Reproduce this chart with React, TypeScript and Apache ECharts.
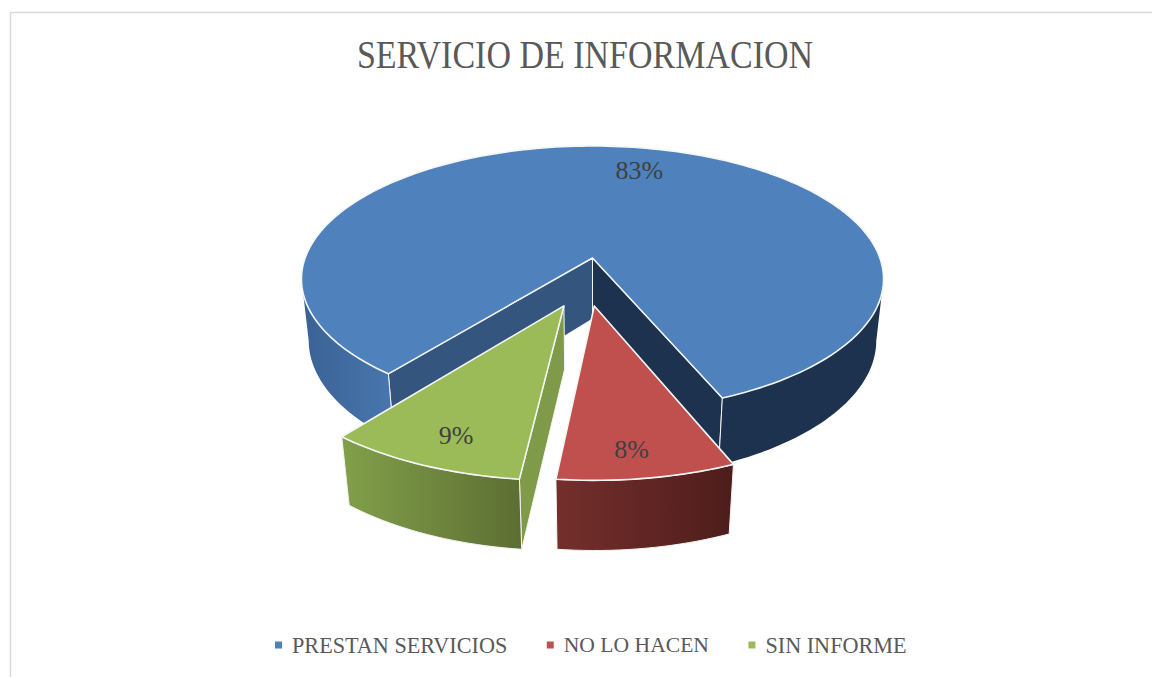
import React, { useEffect, useRef } from "react";
import * as echarts from "echarts";

const titleText = "SERVICIO DE INFORMACION";
const categories = ["PRESTAN SERVICIOS", "NO LO HACEN", "SIN INFORME"];
const percentages = [83, 8, 9];
const topColors = ["#4f81bd", "#c0504d", "#9bbb59"];

const SERIF = '"Liberation Serif", "DejaVu Serif", serif';
const START_ANGLE = 218.5;
const CX = 592.5, CY = 258, RX = 287.4, RY = 129.7, PERSP = 0.158, DEPTH_PERSP = 0.025, DEPTH = 62.5;
const LEFT_SILHOUETTE = 261, RIGHT_SILHOUETTE = 99;

// Per-slice look (explosion in pie-plane units, label anchor in the slice's own polar coordinates)
const looks = [
  { explode: [0, 0], labelAngle: 13.5, labelR: 0.78, legendSize: 22.2 },
  { explode: [0.006, 0.349], labelAngle: 173, labelR: 0.855, legendSize: 21.6 },
  { explode: [-0.094, 0.349], labelAngle: 200.9, labelR: 0.83, legendSize: 22.2 },
];

const rad = (d: number) => (d * Math.PI) / 180;
const total = percentages.reduce((a, b) => a + b, 0);

function project(u: number, v: number, h: number): number[] {
  const w = 1 - PERSP * v + DEPTH_PERSP * h;
  return [CX + (RX * u) / w, CY + (RY * v + DEPTH * h) / w];
}

function rim(a0: number, a1: number, ex: number[], h: number): number[][] {
  const n = Math.max(2, Math.ceil(Math.abs(a1 - a0) / 1.5));
  const pts: number[][] = [];
  for (let i = 0; i <= n; i++) {
    const a = rad(a0 + ((a1 - a0) * i) / n);
    pts.push(project(Math.sin(a) + ex[0], -Math.cos(a) + ex[1], h));
  }
  return pts;
}

function band(a0: number, a1: number, ex: number[]): number[][] {
  return [...rim(a0, a1, ex, 0), ...rim(a0, a1, ex, 1).reverse()];
}

function cutFace(a: number, ex: number[]): number[][] {
  return [project(ex[0], ex[1], 0), ...rim(a, a, ex, 0).slice(0, 1), ...rim(a, a, ex, 1).slice(0, 1), project(ex[0], ex[1], 1)];
}

const hGrad = (c0: string, c1: string) =>
  new echarts.graphic.LinearGradient(0, 0, 1, 0, [
    { offset: 0, color: c0 },
    { offset: 1, color: c1 },
  ]);

const edge = { stroke: "#f4f4f4", lineWidth: 1, lineJoin: "round" };

function poly(points: number[][], fill: any, style: any = edge) {
  return { type: "polygon", shape: { points }, style: { fill, ...style } };
}

function sliceAngles(index: number): number[] {
  const before = percentages.slice(0, index).reduce((a, b) => a + b, 0);
  const a0 = START_ANGLE + (before / total) * 360;
  return [a0, a0 + (percentages[index] / total) * 360];
}

function makeRender(index: number) {
  return (_params: any, api: any) => {
    const value = api.value(0) as number;
    const [a0, a1] = sliceAngles(index);
    const look = looks[index];
    const ex = look.explode;
    const children: any[] = [];
    if (index === 0) {
      // a0 lies left of the front, a1 right of it (measured clockwise from the back)
      children.push(poly(cutFace(a0, ex), "#34557d"));
      children.push(poly(cutFace(a1, ex), "#1d324e"));
      children.push(poly(band(RIGHT_SILHOUETTE, a1 - 360, ex), "#1d324e", { stroke: "none" }));
      children.push(poly(band(a0, LEFT_SILHOUETTE, ex), hGrad("#3a6195", "#4877ae"), { stroke: "none" }));
      const f = rim(a1 - 360, a1 - 360, ex, 0)[0];
      const g = rim(a1 - 360, a1 - 360, ex, 1)[0];
      children.push({ type: "line", shape: { x1: f[0], y1: f[1], x2: g[0], y2: g[1] }, style: { stroke: "#f4f4f4", lineWidth: 1 } });
      const l0 = rim(a0, a0, ex, 0)[0];
      const l1 = rim(a0, a0, ex, 1)[0];
      children.push({ type: "line", shape: { x1: l0[0], y1: l0[1], x2: l1[0], y2: l1[1] }, style: { stroke: "#f4f4f4", lineWidth: 1 } });
    } else if (index === 1) {
      children.push(poly(band(a0, a1, ex), hGrad("#742f2c", "#4d1d1b")));
    } else {
      children.push(poly(cutFace(a0, ex), "#7f9b49"));
      children.push(poly(band(a0, a1, ex), hGrad("#82a04a", "#5c6e33")));
    }
    const top = [project(ex[0], ex[1], 0), ...rim(a0, a1, ex, 0)];
    children.push(poly(top, topColors[index], { stroke: "#f6f6f6", lineWidth: 1.6, lineJoin: "round" }));

    const angle = look.labelAngle;
    const lp = project(
      Math.sin(rad(angle)) * look.labelR + ex[0],
      -Math.cos(rad(angle)) * look.labelR + ex[1],
      0
    );
    children.push({
      type: "text",
      style: {
        text: `${value}%`,
        x: lp[0],
        y: lp[1],
        align: "center",
        verticalAlign: "middle",
        fill: "#404040",
        font: `26px ${SERIF}`,
      },
    });
    return { type: "group", children };
  };
}

export default function App() {
  const ref = useRef<HTMLDivElement>(null);
  useEffect(() => {
    if (!ref.current) return;
    const chart = echarts.init(ref.current, undefined, { renderer: "svg" });
    chart.setOption({
      animation: false,
      backgroundColor: "#ffffff",
      graphic: [
        {
          type: "rect",
          shape: { x: 10.5, y: 12.5, width: 1200, height: 700 },
          style: { fill: "none", stroke: "#d9d9d9", lineWidth: 1.5 },
          silent: true,
        },
        {
          type: "text",
          x: 585,
          y: 55,
          scaleX: 0.85,
          style: {
            text: titleText,
            x: 0,
            y: 0,
            align: "center",
            verticalAlign: "middle",
            fill: "#595959",
            font: `40px ${SERIF}`,
          },
          silent: true,
        },
      ],
      legend: {
        data: categories.map((name, i) => ({ name, textStyle: { fontSize: looks[i].legendSize } })),
        left: 270,
        top: 629,
        icon: "rect",
        itemWidth: 7,
        itemHeight: 7,
        itemGap: 39.5,
        selectedMode: false,
        textStyle: {
          color: "#595959",
          fontFamily: SERIF,
          fontSize: 22,
          padding: [0, 0, 0, 5],
        },
      },
      series: categories.map((name, i) => ({
        type: "custom",
        name,
        coordinateSystem: "none",
        silent: true,
        z: 2 + i,
        itemStyle: { color: topColors[i] },
        data: [[percentages[i]]],
        renderItem: makeRender(i),
      })),
    });
    return () => chart.dispose();
  }, []);
  return <div ref={ref} style={{ position: "absolute", left: 0, top: 0, width: 1152, height: 677 }} />;
}
